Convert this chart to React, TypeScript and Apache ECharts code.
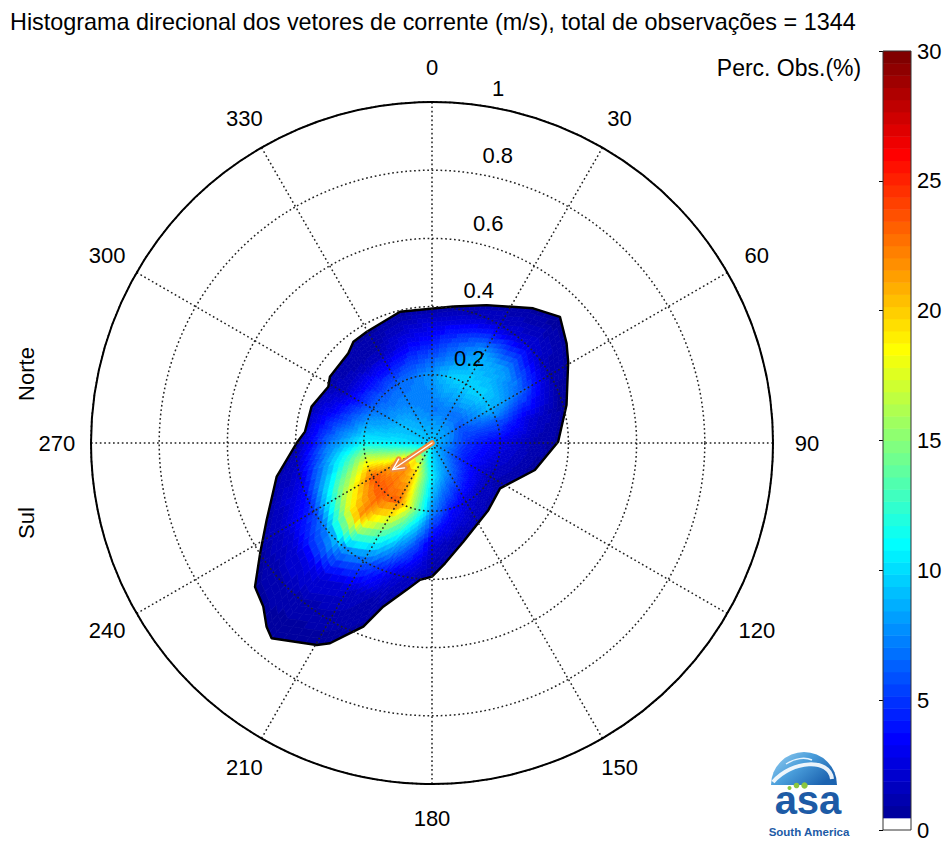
import React, { useEffect, useRef } from "react";
import * as echarts from "echarts";

const FONT = "'Liberation Sans', Arial, Helvetica, sans-serif";

const TITLE =
  "Histograma direcional dos vetores de corrente (m/s), total de observações = 1344";
const COLORBAR_TITLE = "Perc. Obs.(%)";

// Polar axis ticks
const ANGLE_TICKS = [0, 30, 60, 90, 120, 150, 180, 210, 240, 270, 300, 330];
const SPEED_TICKS = [0.2, 0.4, 0.6, 0.8, 1];

// Histogram grid: directions (deg, clockwise from north) and speed rings (m/s)
const GRID_DIRECTIONS = [
  0, 15, 30, 45, 60, 75, 90, 105, 120, 135, 150, 165, 180, 195, 210, 225, 240,
  255, 270, 285, 300, 315, 330, 345,
];
const GRID_SPEEDS = [0, 0.1, 0.2, 0.3, 0.4, 0.5, 0.6, 0.7];

// Percentage of observations at each grid node (one array per speed ring)
const PCT_CENTER = 9.5;
const PCT_SPEED_01 = [
  7, 7, 7, 6.5, 6, 5.5, 5, 4.5, 4.5, 5.5, 7, 8.5, 10.5, 14.5, 19.5, 21.5, 20,
  14.5, 10.5, 9.5, 9, 8.5, 7.8, 7.5,
];
const PCT_SPEED_02 = [
  8, 9.5, 9.8, 9.8, 9, 5.5, 3, 2.2, 1.5, 1.8, 2.5, 4, 7.5, 15, 23, 23.5, 23.5,
  18, 11, 8.5, 6.5, 6, 6.5, 7,
];
const PCT_SPEED_03 = [
  4, 6, 8.5, 8, 6.5, 2.5, 1.2, 0.8, 0.6, 0.6, 0.6, 1, 2.2, 8, 14, 21.5, 16, 10,
  7, 4, 1.8, 1.5, 1.5, 3,
];
const PCT_SPEED_04 = [
  0.8, 1.2, 2, 2.5, 1.2, 0.6, 0.6, 0.6, 0.6, 0.6, 0.6, 0.6, 0.6, 2.5, 6.5, 9,
  5, 2.5, 0.8, 0.6, 0.6, 0.6, 0.6, 0.6,
];
const PCT_SPEED_05 = [
  0.6, 0.6, 0.6, 0.8, 0.6, 0.6, 0.6, 0.6, 0.6, 0.6, 0.6, 0.6, 0.6, 0.6, 2, 3,
  2, 0.6, 0.6, 0.6, 0.6, 0.6, 0.6, 0.6,
];
const PCT_SPEED_06 = [
  0.6, 0.6, 0.6, 0.6, 0.6, 0.6, 0.6, 0.6, 0.6, 0.6, 0.6, 0.6, 0.6, 0.6, 1.1,
  1.3, 0.7, 0.6, 0.6, 0.6, 0.6, 0.6, 0.6, 0.6,
];
const PCT_SPEED_07 = [
  0.6, 0.6, 0.6, 0.6, 0.6, 0.6, 0.6, 0.6, 0.6, 0.6, 0.6, 0.6, 0.6, 0.6, 0.7,
  0.8, 0.6, 0.6, 0.6, 0.6, 0.6, 0.6, 0.6, 0.6,
];
const PCT_RINGS = [
  PCT_SPEED_01,
  PCT_SPEED_02,
  PCT_SPEED_03,
  PCT_SPEED_04,
  PCT_SPEED_05,
  PCT_SPEED_06,
  PCT_SPEED_07,
];

// Outer limit of the observed vectors (direction in deg, speed in m/s)
const OUTLINE_DIR = [
  8.9, 21.6, 36.9, 45.4, 53.5, 59.2, 74.2, 89.4, 104.7, 123.7, 140, 162.4,
  173.8, 180, 185, 189.8, 196.6, 200.5, 204, 207, 209.7, 219.4, 222, 225.9,
  230.9, 237.3, 245, 257.8, 270, 275.1, 286.8, 298.5, 303, 317, 322.2, 329.6,
  346.3,
];
const OUTLINE_SPEED = [
  0.405, 0.435, 0.494, 0.527, 0.491, 0.465, 0.41, 0.37, 0.312, 0.24, 0.257,
  0.304, 0.355, 0.392, 0.403, 0.437, 0.501, 0.575, 0.616, 0.659, 0.682, 0.741,
  0.725, 0.689, 0.669, 0.599, 0.535, 0.466, 0.397, 0.374, 0.369, 0.346, 0.357,
  0.36, 0.376, 0.378, 0.396,
];

// Mean current vector
const MEAN_DIR = 236;
const MEAN_SPEED = 0.139;

// Colour scale
const PCT_MIN = 0;
const PCT_MAX = 30;
const N_LEVELS = 64;
const COLOR_LEVELS = Array.from({ length: N_LEVELS }, (_, k) => k);

// MATLAB-style jet colormap with the lowest level shown in white
function jetColor(k: number): string {
  if (k <= 0) return "#ffffff";
  let r = 0,
    g = 0,
    b = 0;
  if (k < 8) b = (k + 9) / 16;
  else if (k < 24) {
    b = 1;
    g = (k - 7) / 16;
  } else if (k < 40) {
    g = 1;
    r = (k - 23) / 16;
    b = 1 - (k - 23) / 16;
  } else if (k < 56) {
    r = 1;
    g = 1 - (k - 39) / 16;
  } else r = 1 - (k - 55) / 16;
  const h = (x: number) =>
    Math.round(Math.max(0, Math.min(1, x)) * 255)
      .toString(16)
      .padStart(2, "0");
  return "#" + h(r) + h(g) + h(b);
}

function levelOf(v: number, minLevel = 0): number {
  const k = Math.floor(((v - PCT_MIN) / (PCT_MAX - PCT_MIN)) * N_LEVELS);
  return Math.max(minLevel, Math.min(N_LEVELS - 1, k));
}

// Shading across the polar grid (like MATLAB's interpolated shading)
function shadeValue(speed: number, dir: number): number {
  const dStep = GRID_DIRECTIONS[1] - GRID_DIRECTIONS[0];
  const sStep = GRID_SPEEDS[1] - GRID_SPEEDS[0];
  const nd = GRID_DIRECTIONS.length;
  const a = (((dir % 360) + 360) % 360) / dStep;
  const i0 = Math.floor(a) % nd;
  const i1 = (i0 + 1) % nd;
  const fa = a - Math.floor(a);
  const s = Math.min(speed / sStep, GRID_SPEEDS.length - 1);
  const j0 = Math.min(Math.floor(s), GRID_SPEEDS.length - 2);
  const fr = Math.min(1, s - j0);
  const at = (j: number, i: number) => (j === 0 ? PCT_CENTER : PCT_RINGS[j - 1][i]);
  const v0 = at(j0, i0) * (1 - fa) + at(j0, i1) * fa;
  const v1 = at(j0 + 1, i0) * (1 - fa) + at(j0 + 1, i1) * fa;
  return v0 * (1 - fr) + v1 * fr;
}

function renderField(params: any, api: any) {
  const n = OUTLINE_DIR.length;
  const i = params.dataIndex;
  const j = (i + 1) % n;
  const c = api.coord([0, 0]);
  const e = api.coord([1, 90]);
  const unit = Math.hypot(e[0] - c[0], e[1] - c[1]);
  const A = api.coord([OUTLINE_SPEED[i], OUTLINE_DIR[i]]);
  const B = api.coord([OUTLINE_SPEED[j], OUTLINE_DIR[j]]);
  let span = OUTLINE_DIR[j] - OUTLINE_DIR[i];
  if (span < 0) span += 360;
  const m = Math.max(1, Math.ceil(span / 2.5));
  const N = 30;
  const children: any[] = [];
  const lerp = (p: number[], q: number[], t: number) => [
    p[0] + (q[0] - p[0]) * t,
    p[1] + (q[1] - p[1]) * t,
  ];
  for (let k = 0; k < m; k++) {
    const E0 = lerp(A, B, k / m);
    const E1 = lerp(A, B, (k + 1) / m);
    const Em = lerp(A, B, (k + 0.5) / m);
    for (let q = 0; q < N; q++) {
      const u0 = q / N;
      const u1 = (q + 1) / N;
      const um = (u0 + u1) / 2;
      const p1 = lerp(c, E0, u0);
      const p2 = lerp(c, E0, u1);
      const p3 = lerp(c, E1, u1);
      const p4 = lerp(c, E1, u0);
      const mid = lerp(c, Em, um);
      const dx = mid[0] - c[0];
      const dy = mid[1] - c[1];
      const speed = Math.hypot(dx, dy) / unit;
      const dir = (Math.atan2(dx, -dy) * 180) / Math.PI;
      const col = jetColor(levelOf(shadeValue(speed, dir), 1));
      children.push({
        type: "polygon",
        shape: { points: [p1, p2, p3, p4] },
        style: { fill: col, stroke: col, lineWidth: 0.7 },
        silent: true,
      });
    }
  }
  return { type: "group", children };
}

function renderArrow(params: any, api: any) {
  const c = api.coord([0, api.value(1)]);
  const tip = api.coord([api.value(0), api.value(1)]);
  const dx = tip[0] - c[0];
  const dy = tip[1] - c[1];
  const len = Math.hypot(dx, dy);
  const ux = dx / len;
  const uy = dy / len;
  const L = 12;
  const ang = (26 * Math.PI) / 180;
  const rot = (s: number) => [
    tip[0] - L * (ux * Math.cos(s * ang) - uy * Math.sin(s * ang)),
    tip[1] - L * (uy * Math.cos(s * ang) + ux * Math.sin(s * ang)),
  ];
  const h1 = rot(1);
  const h2 = rot(-1);
  const mk = (stroke: string, w: number) => [
    { type: "polyline", shape: { points: [c, tip] }, style: { stroke, lineWidth: w, fill: null, lineCap: "round" } },
    { type: "polyline", shape: { points: [h1, tip, h2] }, style: { stroke, lineWidth: w, fill: null, lineCap: "round", lineJoin: "round" } },
  ];
  return {
    type: "group",
    children: [...mk("#f08a3c", 5.5), ...mk("#ffffff", 1.4)],
  };
}

function renderColorbar(params: any, api: any) {
  const k = api.value(1);
  const y0 = PCT_MIN + ((PCT_MAX - PCT_MIN) * k) / N_LEVELS;
  const y1 = PCT_MIN + ((PCT_MAX - PCT_MIN) * (k + 1)) / N_LEVELS;
  const p0 = api.coord([0, y0]);
  const p1 = api.coord([1, y1]);
  const col = jetColor(k);
  return {
    type: "rect",
    shape: { x: p0[0], y: p1[1], width: p1[0] - p0[0], height: p0[1] - p1[1] + 0.5 },
    style: { fill: col },
    silent: true,
  };
}

const DOTTED = { type: [1.7, 2.7] as any, color: "#222", width: 1.5 };

const TICK_LABEL = {
  show: true,
  color: "#000",
  fontSize: 22,
  fontFamily: FONT,
  textBorderWidth: 0,
  opacity: 1,
};

export default function App() {
  const ref = useRef<HTMLDivElement>(null);

  useEffect(() => {
    if (!ref.current) return;
    const chart = echarts.init(ref.current, undefined, { renderer: "svg" });

    const outlinePts = OUTLINE_DIR.map((d, i) => [OUTLINE_SPEED[i], d]);

    chart.setOption({
      animation: false,
      backgroundColor: "#ffffff",
      textStyle: { fontFamily: FONT },
      polar: { center: [432, 443], radius: 341 },
      angleAxis: {
        type: "value",
        min: 0,
        max: 360,
        interval: 30,
        startAngle: 90,
        clockwise: true,
        z: 5,
        axisLine: { show: true, lineStyle: { color: "#000", width: 2 } },
        axisTick: { show: false },
        axisLabel: { show: false },
        splitLine: { show: true, lineStyle: DOTTED },
      },
      radiusAxis: {
        type: "value",
        min: 0,
        max: 1,
        interval: 0.2,
        z: 5,
        axisLine: { show: false },
        axisTick: { show: false },
        axisLabel: { show: false },
        splitLine: { show: true, lineStyle: DOTTED },
      },
      grid: {
        left: 883,
        top: 51,
        width: 28,
        height: 786,
        show: true,
        z: 10,
        backgroundColor: "rgba(0,0,0,0)",
        borderColor: "#333",
        borderWidth: 1,
      },
      xAxis: { type: "value", min: 0, max: 1, show: false },
      yAxis: {
        type: "value",
        min: PCT_MIN,
        max: PCT_MAX,
        interval: 5,
        position: "right",
        axisLine: { show: false },
        axisTick: { show: true, inside: true, length: 4, lineStyle: { color: "#000" } },
        splitLine: { show: false },
        axisLabel: { margin: 6, fontSize: 22, color: "#000", fontFamily: FONT },
      },
      graphic: [
        {
          type: "text",
          x: 10,
          y: 22,
          style: { text: TITLE, fontSize: 23.4, fontFamily: FONT, fill: "#000", align: "left", verticalAlign: "middle" },
        },
        {
          type: "text",
          x: 789,
          y: 68,
          style: { text: COLORBAR_TITLE, fontSize: 23, fontFamily: FONT, fill: "#000", align: "center", verticalAlign: "middle" },
        },
        {
          type: "text",
          x: 26,
          y: 374,
          rotation: Math.PI / 2,
          style: { text: "Norte", fontSize: 22, fontFamily: FONT, fill: "#000", align: "center", verticalAlign: "middle" },
        },
        {
          type: "text",
          x: 26,
          y: 523,
          rotation: Math.PI / 2,
          style: { text: "Sul", fontSize: 22, fontFamily: FONT, fill: "#000", align: "center", verticalAlign: "middle" },
        },
        // logo
        {
          type: "group",
          children: [
            {
              type: "sector",
              shape: { cx: 804, cy: 785, r: 33, r0: 0, startAngle: Math.PI, endAngle: 2 * Math.PI },
              style: {
                fill: {
                  type: "linear",
                  x: 0,
                  y: 0,
                  x2: 1,
                  y2: 0.6,
                  colorStops: [
                    { offset: 0, color: "#9fd3f2" },
                    { offset: 0.5, color: "#4a9edb" },
                    { offset: 1, color: "#1c63b0" },
                  ],
                },
              },
            },
            {
              type: "bezierCurve",
              shape: { x1: 773, y1: 782, x2: 832, y2: 779, cpx1: 792, cpy1: 760, cpx2: 830, cpy2: 758 },
              style: { stroke: "#ffffff", lineWidth: 4, fill: null, opacity: 0.9 },
            },
            {
              type: "bezierCurve",
              shape: { x1: 786, y1: 764, x2: 812, y2: 760, cpx1: 795, cpy1: 758, cpx2: 805, cpy2: 757 },
              style: { stroke: "#e8f5ff", lineWidth: 1.5, fill: null },
            },
            { type: "circle", shape: { cx: 789.5, cy: 788, r: 2 }, style: { fill: "#8cc63f" } },
            { type: "circle", shape: { cx: 796.5, cy: 785.5, r: 2.8 }, style: { fill: "#8cc63f" } },
            { type: "circle", shape: { cx: 804.5, cy: 785.5, r: 3.2 }, style: { fill: "#8cc63f" } },
            {
              type: "text",
              x: 808,
              y: 800,
              style: { text: "asa", fontSize: 40, lineHeight: 30, fontWeight: "bold", fontFamily: FONT, fill: "#1d5ba6", align: "center", verticalAlign: "middle" },
            },
            {
              type: "text",
              x: 809,
              y: 832,
              style: { text: "South America", fontSize: 11.5, lineHeight: 12, fontWeight: "bold", fontFamily: FONT, fill: "#1d5ba6", align: "center", verticalAlign: "middle" },
            },
          ],
        },
      ],
      series: [
        {
          type: "custom",
          name: "Perc. Obs.",
          coordinateSystem: "polar",
          z: 1,
          silent: true,
          renderItem: renderField,
          data: outlinePts,
        },
        {
          type: "line",
          coordinateSystem: "polar",
          z: 2,
          silent: true,
          symbol: "none",
          lineStyle: { color: "#000", width: 2.4 },
          data: [...outlinePts, outlinePts[0]],
        },
        {
          type: "custom",
          coordinateSystem: "polar",
          z: 8,
          silent: true,
          renderItem: renderArrow,
          data: [[MEAN_SPEED, MEAN_DIR]],
        },
        {
          type: "scatter",
          coordinateSystem: "polar",
          z: 9,
          silent: true,
          clip: false,
          symbolSize: 1,
          itemStyle: { color: "rgba(0,0,0,0)", opacity: 1 },
          data: ANGLE_TICKS.map((a) => [1.1, a]),
          label: {
            ...TICK_LABEL,
            position: "inside",
            formatter: (p: any) => String(p.value[1]),
          },
        },
        {
          type: "scatter",
          coordinateSystem: "polar",
          z: 9,
          silent: true,
          clip: false,
          symbolSize: 1,
          itemStyle: { color: "rgba(0,0,0,0)", opacity: 1 },
          data: SPEED_TICKS.map((s) => [s, 8]),
          label: {
            ...TICK_LABEL,
            position: "right",
            distance: 0,
            offset: [12, -17],
            formatter: (p: any) => String(p.value[0]),
          },
        },
        {
          type: "custom",
          coordinateSystem: "cartesian2d",
          silent: true,
          z: 2,
          renderItem: renderColorbar,
          data: COLOR_LEVELS.map((k) => [0, k]),
        },
      ],
    });

    return () => chart.dispose();
  }, []);

  return (
    <div
      ref={ref}
      style={{ position: "absolute", left: 0, top: 0, width: 946, height: 841, background: "#fff" }}
    />
  );
}
